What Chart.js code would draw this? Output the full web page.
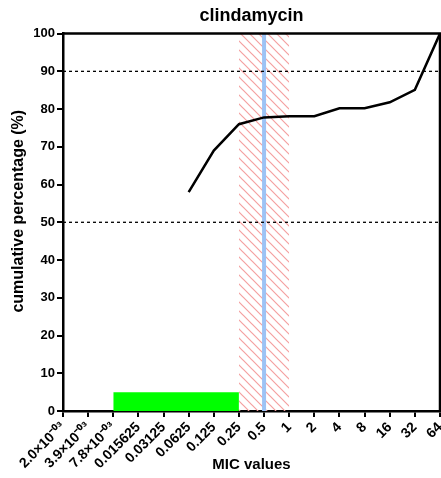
<!DOCTYPE html>
<html><head><meta charset="utf-8">
<script src="https://cdn.jsdelivr.net/npm/chart.js@4/dist/chart.umd.min.js"></script>
<style>html,body{margin:0;padding:0;background:#fff}</style>
</head><body>
<canvas id="c" width="441" height="478"></canvas>
<script>
// ---- data ----
const micLabels = ['2.0×10⁻⁰³','3.9×10⁻⁰³','7.8×10⁻⁰³','0.015625','0.03125','0.0625','0.125','0.25','0.5','1','2','4','8','16','32','64'];
const cumulativePct = [null,null,null,null,null,58,69,76,77.8,78.1,78.1,80.2,80.2,81.8,85.1,100];
const greenRange = [2, 7];      // category indices (7.8e-3 .. 0.25)
const greenHeight = 5;
const hatchRange = [7, 9];      // 0.25 .. 1
const blueLineAt = 8;           // 0.5
const refLines = [50, 90];
const yTicks = [0,10,20,30,40,50,60,70,80,90,100];

Chart.defaults.font.family = "'Liberation Sans', Arial, sans-serif";
Chart.defaults.color = '#000';

function hatchPattern() {
  const p = document.createElement('canvas');
  p.width = 9; p.height = 9;
  const g = p.getContext('2d');
  g.strokeStyle = '#f4a0a0';
  g.lineWidth = 1.2;
  g.beginPath();
  g.moveTo(-2,-2); g.lineTo(11,11);
  g.moveTo(-2,7); g.lineTo(2,11);
  g.moveTo(7,-2); g.lineTo(11,2);
  g.stroke();
  return document.getElementById('c').getContext('2d').createPattern(p, 'repeat');
}

const curvePts = cumulativePct.map((v,i)=>({x:i,y:v})).filter(p=>p.y!==null);

const datasets = [
  {data: curvePts, borderColor:'#000', borderWidth:2.5, pointRadius:0, fill:false, order:0, tension:0},
  ...refLines.map(v=>({data:[{x:0,y:v},{x:micLabels.length-1,y:v}], borderColor:'#000', borderWidth:1.3, borderDash:[3,3], pointRadius:0, fill:false, order:1})),
  {data:[{x:blueLineAt,y:0},{x:blueLineAt,y:100}], borderColor:'#9dc3f5', borderWidth:4, pointRadius:0, fill:false, order:2},
  {data:[{x:greenRange[0],y:greenHeight},{x:greenRange[1],y:greenHeight}], borderWidth:0, borderColor:'rgba(0,0,0,0)', backgroundColor:'#00ff00', pointRadius:0, fill:'origin', order:3},
  {data:[{x:hatchRange[0],y:100},{x:hatchRange[1],y:100}], borderWidth:0, borderColor:'rgba(0,0,0,0)', backgroundColor:hatchPattern(), pointRadius:0, fill:'origin', order:4}
];

const frame = {
  id:'frame',
  afterDatasetsDraw(chart){
    const {ctx, chartArea:a} = chart;
    ctx.save();
    ctx.strokeStyle = '#000'; ctx.lineWidth = 2.5;
    ctx.beginPath();
    ctx.moveTo(a.left, a.top); ctx.lineTo(a.right, a.top); ctx.lineTo(a.right, a.bottom);
    ctx.stroke();
    ctx.restore();
  }
};

new Chart(document.getElementById('c'), {
  type:'line',
  data:{datasets},
  plugins:[frame],
  options:{
    responsive:false, animation:false,
    layout:{padding:{left:0,right:1,top:0,bottom:0}},
    plugins:{
      legend:{display:false}, tooltip:{enabled:false},
      title:{display:true, fullSize:false, text:'clindamycin', color:'#000', font:{size:18, weight:'bold'}, padding:{top:5,bottom:7}}
    },
    scales:{
      x:{type:'linear', min:0, max:micLabels.length-1, position:'bottom',
        afterBuildTicks(s){ s.ticks = micLabels.map((_,i)=>({value:i})); },
        ticks:{autoSkip:false, maxRotation:45, minRotation:45, padding:2, color:'#000', font:{size:14, weight:'bold'},
          callback:(v)=>micLabels[v]},
        grid:{drawOnChartArea:false, drawTicks:true, tickLength:6, color:'#000', lineWidth:2},
        border:{display:true, color:'#000', width:2.5},
        title:{display:true, text:'MIC values', color:'#000', font:{size:15, weight:'bold'}, padding:{top:0,bottom:4}},
        afterFit(s){ s.height = 67; s.paddingRight = 0; s.paddingLeft = 0; }
      },
      y:{type:'linear', min:0, max:100,
        afterBuildTicks(s){ s.ticks = yTicks.map(v=>({value:v})); },
        ticks:{padding:2, color:'#000', font:{size:13, weight:'bold'}},
        grid:{drawOnChartArea:false, drawTicks:true, tickLength:6, color:'#000', lineWidth:2},
        border:{display:true, color:'#000', width:2.5},
        title:{display:true, text:'     cumulative percentage (%)', color:'#000', font:{size:16, weight:'bold'}, padding:{top:9,bottom:0}},
        afterFit(s){ s.width = 63; s.paddingTop = 0; s.paddingBottom = 0; }
      }
    }
  }
});
</script>
</body></html>
